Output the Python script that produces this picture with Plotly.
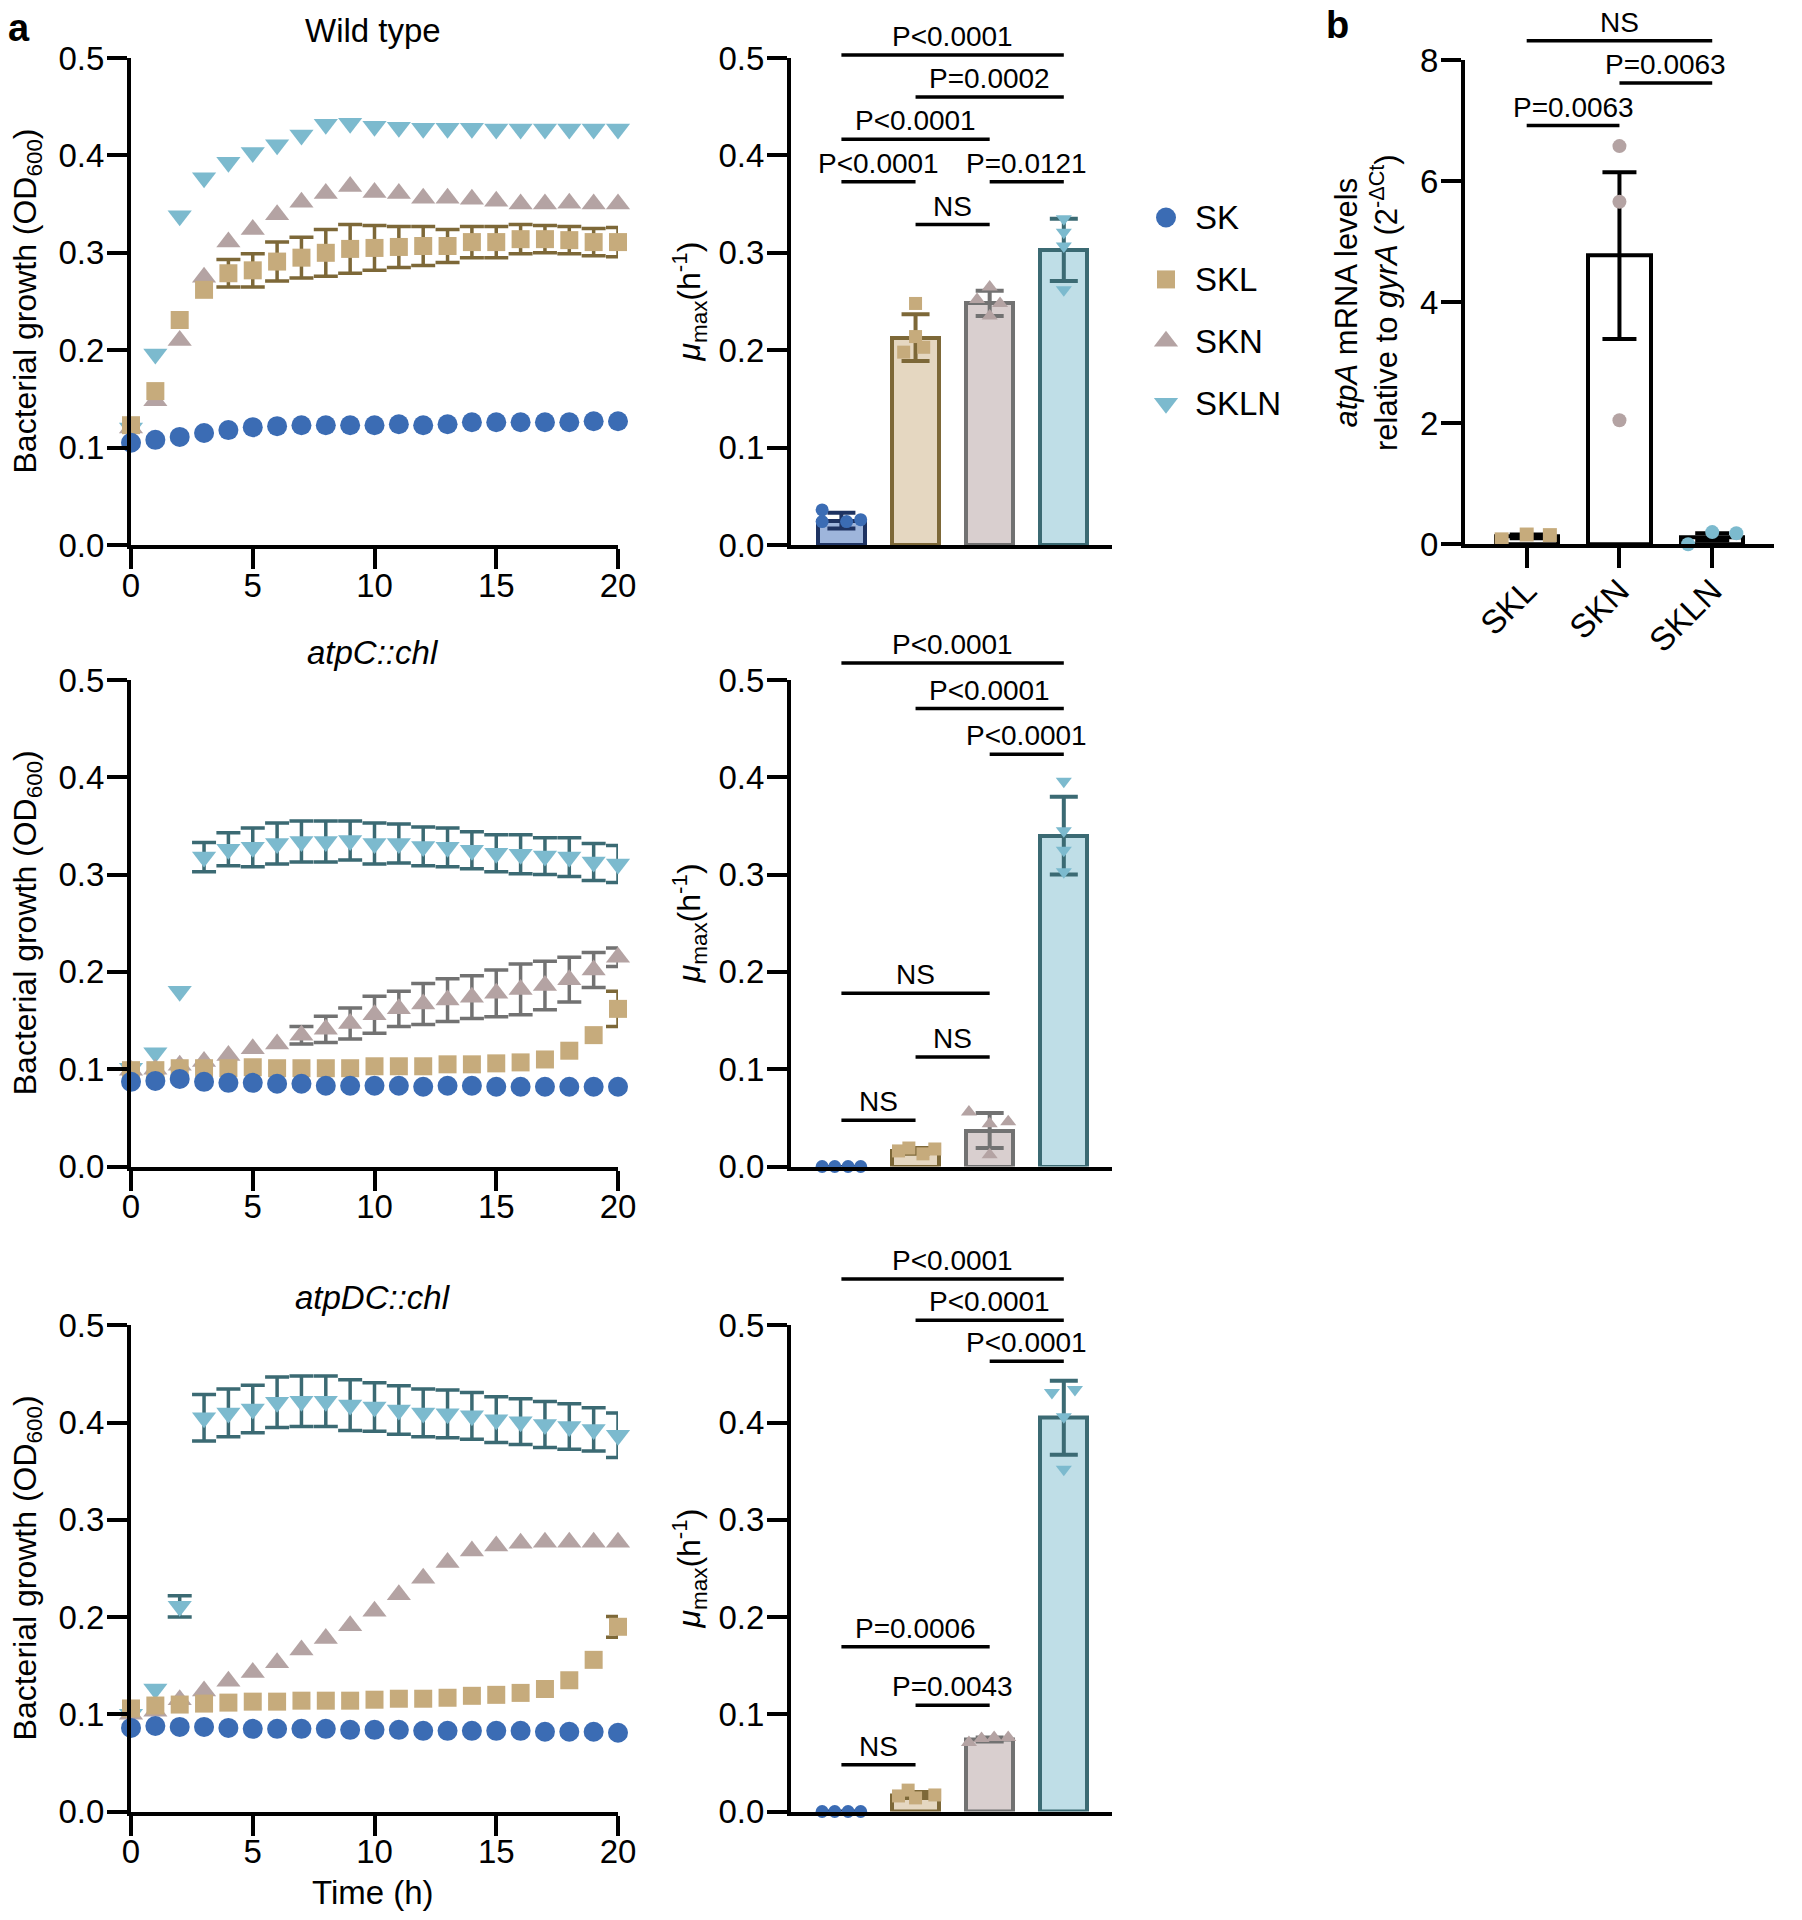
import plotly.graph_objects as go

W, H = 1802, 1920
FONT = "Liberation Sans, Arial, Helvetica, sans-serif"

# ---------------- data ----------------
TIME = list(range(21))
GROUPS = ["SK", "SKL", "SKN", "SKLN"]

# Wild type growth (OD600)
WT_SK = [0.105, 0.108, 0.111, 0.115, 0.118, 0.121, 0.122, 0.123, 0.123, 0.123, 0.123,
         0.124, 0.123, 0.124, 0.126, 0.126, 0.126, 0.126, 0.126, 0.127, 0.127]
WT_SKL = [0.123, 0.158, 0.231, 0.262, 0.279, 0.282, 0.291, 0.295, 0.300, 0.304, 0.305,
          0.306, 0.307, 0.307, 0.311, 0.311, 0.314, 0.314, 0.313, 0.311, 0.311]
WT_SKL_ERR = [None, None, None, None, 0.014, 0.017, 0.020, 0.021, 0.024, 0.025, 0.023,
              0.021, 0.020, 0.017, 0.016, 0.016, 0.015, 0.014, 0.014, 0.014, 0.015]
WT_SKN = [0.120, 0.148, 0.210, 0.275, 0.311, 0.324, 0.339, 0.352, 0.361, 0.368, 0.362,
          0.361, 0.356, 0.356, 0.355, 0.353, 0.350, 0.350, 0.351, 0.350, 0.350]
WT_SKLN = [0.120, 0.196, 0.338, 0.377, 0.393, 0.403, 0.411, 0.421, 0.432, 0.433, 0.430,
           0.429, 0.428, 0.428, 0.428, 0.427, 0.427, 0.427, 0.427, 0.427, 0.427]

# atpC::chl growth
C_SK = [0.087, 0.088, 0.090, 0.087, 0.086, 0.086, 0.085, 0.085, 0.083, 0.083, 0.083,
        0.083, 0.082, 0.083, 0.083, 0.082, 0.082, 0.082, 0.082, 0.082, 0.082]
C_SKL = [0.099, 0.099, 0.101, 0.101, 0.101, 0.102, 0.101, 0.101, 0.101, 0.101, 0.103,
         0.103, 0.103, 0.105, 0.105, 0.106, 0.107, 0.110, 0.119, 0.135, 0.162]
C_SKL_ERR = [None] * 20 + [0.018]
C_SKN = [0.099, 0.100, 0.104, 0.108, 0.114, 0.121, 0.126, 0.135, 0.141, 0.147, 0.156,
         0.162, 0.167, 0.171, 0.174, 0.178, 0.182, 0.186, 0.192, 0.202, 0.215]
C_SKN_ERR = [None] * 7 + [0.009, 0.0135, 0.016, 0.019, 0.018, 0.021, 0.022, 0.022,
                          0.024, 0.026, 0.025, 0.023, 0.018, 0.0095]
C_SKLN = [0.101, 0.117, 0.180, 0.318, 0.326, 0.328, 0.332, 0.334, 0.334, 0.335, 0.332,
          0.332, 0.329, 0.328, 0.325, 0.322, 0.321, 0.319, 0.318, 0.313, 0.311]
C_SKLN_ERR = [None] * 3 + [0.015, 0.017, 0.020, 0.021, 0.021, 0.021, 0.020, 0.021,
                           0.020, 0.020, 0.020, 0.019, 0.019, 0.020, 0.019, 0.020, 0.019, 0.019]

# atpDC::chl growth
DC_SK = [0.086, 0.088, 0.087, 0.087, 0.086, 0.085, 0.085, 0.085, 0.085, 0.084, 0.084,
         0.084, 0.083, 0.083, 0.083, 0.083, 0.083, 0.082, 0.082, 0.082, 0.081]
DC_SKL = [0.106, 0.109, 0.110, 0.111, 0.112, 0.113, 0.113, 0.114, 0.114, 0.114, 0.115,
          0.116, 0.116, 0.117, 0.119, 0.120, 0.122, 0.126, 0.135, 0.156, 0.190]
DC_SKL_ERR = [None] * 20 + [0.0107]
DC_SKN = [0.100, 0.103, 0.115, 0.124, 0.134, 0.143, 0.153, 0.166, 0.178, 0.191, 0.206,
          0.223, 0.240, 0.256, 0.268, 0.273, 0.276, 0.277, 0.277, 0.277, 0.277]
DC_SKLN = [0.100, 0.126, 0.211, 0.405, 0.410, 0.414, 0.421, 0.422, 0.422, 0.418, 0.416,
           0.413, 0.410, 0.409, 0.407, 0.403, 0.401, 0.398, 0.396, 0.393, 0.387]
DC_SKLN_ERR = [None, None, 0.011, 0.024, 0.0245, 0.0245, 0.026, 0.026, 0.026, 0.026, 0.025,
               0.025, 0.0245, 0.0245, 0.024, 0.0235, 0.0235, 0.0237, 0.0234, 0.0223, 0.023]

# mu_max bar charts
WT_MU_MEAN = [0.025, 0.213, 0.248, 0.303]
WT_MU_ERR = [0.008, 0.024, 0.013, 0.032]
WT_MU_POINTS = [[0.036, 0.024, 0.024, 0.026], [0.248, 0.214, 0.198, 0.203],
                [0.265, 0.252, 0.248, 0.235], [0.335, 0.321, 0.307, 0.262]]
WT_SIG = [(0, 3, 0.503, "P<0.0001"), (1, 3, 0.460, "P=0.0002"), (0, 2, 0.4165, "P<0.0001"),
          (0, 1, 0.373, "P<0.0001"), (2, 3, 0.373, "P=0.0121"), (1, 2, 0.329, "NS")]

C_MU_MEAN = [0.0, 0.016, 0.037, 0.340]
C_MU_ERR = [None, 0.003, 0.018, 0.040]
C_MU_POINTS = [[0.0, 0.0, 0.0, 0.0], [0.016, 0.019, 0.013, 0.018],
               [0.056, 0.046, 0.044, 0.012], [0.396, 0.345, 0.325, 0.303]]
C_SIG = [(0, 3, 0.5175, "P<0.0001"), (1, 3, 0.4707, "P<0.0001"), (2, 3, 0.4236, "P<0.0001"),
         (0, 2, 0.178, "NS"), (1, 2, 0.1126, "NS"), (0, 1, 0.0476, "NS")]

DC_MU_MEAN = [0.0, 0.017, 0.074, 0.405]
DC_MU_ERR = [None, 0.003, 0.002, 0.038]
DC_MU_POINTS = [[0.0, 0.0, 0.0, 0.0], [0.022, 0.016, 0.014, 0.017],
                [0.071, 0.075, 0.076, 0.076], [0.431, 0.434, 0.406, 0.352]]
DC_SIG = [(0, 3, 0.5477, "P<0.0001"), (1, 3, 0.5053, "P<0.0001"), (2, 3, 0.463, "P<0.0001"),
          (0, 2, 0.1695, "P=0.0006"), (1, 2, 0.1093, "P=0.0043"), (0, 1, 0.0482, "NS")]

# panel b: atpA mRNA
B_GROUPS = ["SKL", "SKN", "SKLN"]
B_MEAN = [0.13, 4.77, 0.12]
B_ERR = [0.03, 1.38, 0.06]
B_POINTS = [[0.08, 0.16, 0.15], [6.58, 5.66, 2.05], [0.0, 0.20, 0.18]]
B_SIG = [(0, 2, 8.32, "NS"), (1, 2, 7.625, "P=0.0063"), (0, 1, 6.92, "P=0.0063")]

# ---------------- styles ----------------
COLOR = {"SK": "#3b6cb4", "SKL": "#c6ab7c", "SKN": "#b4a3a3", "SKLN": "#7cbace"}
DARK = {"SK": "#1e3362", "SKL": "#7d6838", "SKN": "#727272", "SKLN": "#3b6a73"}
FILL = {"SK": "#9eb5db", "SKL": "#e5d7c1", "SKN": "#d9cfcf", "SKLN": "#bfdee7"}
SYMBOL = {"SK": "circle", "SKL": "square", "SKN": "triangle-up", "SKLN": "triangle-down"}
LSIZE = {"SK": 20, "SKL": 18, "SKN": 21, "SKLN": 21}
BSIZE = {"SK": 13, "SKL": 13, "SKN": 14, "SKLN": 14}

JIT_WT = [[-0.26, -0.26, 0.07, 0.26], [0, 0, -0.16, 0.11], [0, -0.17, 0.14, 0], [0, 0, 0, 0]]
JIT_C = [[-0.26, -0.09, 0.09, 0.26], [-0.23, -0.09, 0.1, 0.26], [-0.28, 0.25, 0, 0], [0, 0, 0, 0]]
JIT_DC = [[-0.26, -0.09, 0.09, 0.26], [-0.1, -0.23, 0, 0.26], [-0.28, -0.11, 0.06, 0.25],
          [-0.16, 0.15, 0, 0]]
JIT_B = [[-0.27, 0, 0.25], [0, 0, 0], [-0.26, 0, 0.26]]


def dx(a, b):
    return [a / W, b / W]


def dy(top, bottom):
    return [1 - bottom / H, 1 - top / H]


ROWS = [(58, 545), (680, 1166.5), (1325.4, 1811.5)]
LINE_X = (131, 618)
BAR_X = (791, 1112)
B_X = (1465, 1774)
B_Y = (60.2, 544.2)

AX = dict(showline=True, linewidth=4, linecolor="black", ticks="outside", ticklen=20,
          tickwidth=4, tickcolor="black", showgrid=False, zeroline=False, automargin=False,
          tickfont=dict(size=33, color="black", family=FONT))
XAX = dict(AX, ticklabelstandoff=-12)
YAX = dict(AX, ticklabelstandoff=-4)
HID = dict(visible=False, showgrid=False, zeroline=False, automargin=False)

fig = go.Figure()
layout = dict(width=W, height=H, template="none",
              margin=dict(l=0, r=0, t=0, b=0, pad=0, autoexpand=False), autosize=False,
              paper_bgcolor="white", plot_bgcolor="rgba(0,0,0,0)", showlegend=False,
              font=dict(family=FONT, color="black"))
annotations = []


def add_brackets(xref_name, yax_key, yref_name, dom_bottom, dom_top, range_top, sig, ext):
    """Invisible companion axis sharing the visible axis' scale but extended upward."""
    top_ext = max(h for _, _, h, _ in sig) + ext
    px_per_unit = (dom_bottom - dom_top) / range_top
    new_top = dom_bottom - top_ext * px_per_unit
    layout[yax_key] = dict(HID, domain=dy(new_top, dom_bottom), range=[0, top_ext],
                           anchor=xref_name)
    xs, ys = [], []
    for a, b, h, lab in sig:
        xs += [a, b, None]
        ys += [h, h, None]
        annotations.append(dict(xref=xref_name, yref=yref_name, x=(a + b) / 2, y=h, text=lab,
                                showarrow=False, yanchor="bottom", yshift=1,
                                font=dict(size=28, color="black", family=FONT)))
    fig.add_trace(go.Scatter(x=xs, y=ys, mode="lines", xaxis=xref_name, yaxis=yref_name,
                             line=dict(color="black", width=3.5), hoverinfo="skip"))


growth_sets = [
    {"SK": (WT_SK, None), "SKL": (WT_SKL, WT_SKL_ERR), "SKN": (WT_SKN, None), "SKLN": (WT_SKLN, None)},
    {"SK": (C_SK, None), "SKL": (C_SKL, C_SKL_ERR), "SKN": (C_SKN, C_SKN_ERR), "SKLN": (C_SKLN, C_SKLN_ERR)},
    {"SK": (DC_SK, None), "SKL": (DC_SKL, DC_SKL_ERR), "SKN": (DC_SKN, None), "SKLN": (DC_SKLN, DC_SKLN_ERR)},
]
bar_sets = [(WT_MU_MEAN, WT_MU_ERR, WT_MU_POINTS, WT_SIG, JIT_WT),
            (C_MU_MEAN, C_MU_ERR, C_MU_POINTS, C_SIG, JIT_C),
            (DC_MU_MEAN, DC_MU_ERR, DC_MU_POINTS, DC_SIG, JIT_DC)]
TITLES = ["Wild type", "<i>atpC::chl</i>", "<i>atpDC::chl</i>"]

Y_TICKS = [0, 0.1, 0.2, 0.3, 0.4, 0.5]
Y_TEXT = ["0.0", "0.1", "0.2", "0.3", "0.4", "0.5"]

for r in range(3):
    top, bot = ROWS[r]
    li = r + 1          # line plot axis index
    bi = r + 4          # bar plot axis index
    si = r + 9          # bracket companion axis index
    lx, ly = ("x" if li == 1 else f"x{li}"), ("y" if li == 1 else f"y{li}")
    bx, by = f"x{bi}", f"y{bi}"

    layout["xaxis" if li == 1 else f"xaxis{li}"] = dict(
        XAX, domain=dx(*LINE_X), range=[0, 20], tickvals=[0, 5, 10, 15, 20], anchor=ly)
    layout["yaxis" if li == 1 else f"yaxis{li}"] = dict(
        YAX, domain=dy(top, bot), range=[0, 0.5], tickvals=Y_TICKS, ticktext=Y_TEXT, anchor=lx)
    layout[f"xaxis{bi}"] = dict(AX, domain=dx(*BAR_X), range=[-0.68, 3.65], ticks="",
                                showticklabels=False, anchor=by)
    layout[f"yaxis{bi}"] = dict(YAX, domain=dy(top, bot), range=[0, 0.5], tickvals=Y_TICKS,
                                ticktext=Y_TEXT, anchor=bx)

    # growth curves: back to front SKLN, SKN, SKL, SK
    for g in ["SKLN", "SKN", "SKL", "SK"]:
        vals, errs = growth_sets[r][g]
        if errs is not None:
            ex = [t for t, e in zip(TIME, errs) if e is not None]
            ey = [v for v, e in zip(vals, errs) if e is not None]
            ee = [e for e in errs if e is not None]
            fig.add_trace(go.Scatter(x=ex, y=ey, mode="markers", xaxis=lx, yaxis=ly,
                                     marker=dict(size=1, color="rgba(0,0,0,0)"),
                                     error_y=dict(type="data", array=ee, color=DARK[g],
                                                  thickness=3.5, width=12),
                                     cliponaxis=False, hoverinfo="skip"))
        fig.add_trace(go.Scatter(x=TIME, y=vals, mode="markers", xaxis=lx, yaxis=ly, name=g,
                                 marker=dict(symbol=SYMBOL[g], size=LSIZE[g], color=COLOR[g],
                                             opacity=1, line=dict(width=0)),
                                 cliponaxis=False))

    # bar chart
    mean, err, pts, sig, jit = bar_sets[r]
    for i, g in enumerate(GROUPS):
        bar_kw = dict(x=[i], y=[mean[i]], xaxis=bx, yaxis=by, width=0.63,
                      marker=dict(color=FILL[g], line=dict(color=DARK[g], width=4)))
        if err[i] is not None:
            bar_kw["error_y"] = dict(type="data", array=[err[i]], color=DARK[g],
                                     thickness=4, width=14)
        fig.add_trace(go.Bar(**bar_kw))
    for i, g in enumerate(GROUPS):
        fig.add_trace(go.Scatter(x=[i + o for o in jit[i]], y=pts[i], mode="markers",
                                 xaxis=bx, yaxis=by, cliponaxis=False,
                                 marker=dict(symbol=SYMBOL[g], size=BSIZE[g], color=COLOR[g],
                                             opacity=1, line=dict(width=0))))
    add_brackets(bx, f"yaxis{si}", f"y{si}", bot, top, 0.5, sig, 0.01)

    # titles / axis labels
    annotations.append(dict(xref="paper", yref="paper", x=373 / W, y=1 - (top - 28) / H,
                            text=TITLES[r], showarrow=False, xanchor="center", yanchor="middle",
                            font=dict(size=33, color="black", family=FONT)))
    annotations.append(dict(xref="paper", yref="paper", x=27 / W, y=1 - (top + bot) / 2 / H,
                            text="Bacterial growth (OD<sub>600</sub>)", textangle=-90,
                            showarrow=False, xanchor="center", yanchor="middle",
                            font=dict(size=32, color="black", family=FONT)))
    annotations.append(dict(xref="paper", yref="paper", x=689 / W, y=1 - (top + bot) / 2 / H,
                            text="<i>μ</i><sub>max</sub>(h<sup>-1</sup>)", textangle=-90,
                            showarrow=False, xanchor="center", yanchor="middle",
                            font=dict(size=32, color="black", family=FONT)))

# panel b
layout["xaxis7"] = dict(AX, ticklabelstandoff=-10, domain=dx(*B_X), range=[-0.665, 2.666],
                        tickvals=[0, 1, 2], ticktext=B_GROUPS, tickangle=-45, anchor="y7")
layout["yaxis7"] = dict(YAX, domain=dy(*B_Y), range=[0, 8], tickvals=[0, 2, 4, 6, 8],
                        anchor="x7")
fig.add_trace(go.Bar(x=[0, 1, 2], y=B_MEAN, xaxis="x7", yaxis="y7", width=0.67,
                     marker=dict(color="white", line=dict(color="black", width=4)),
                     error_y=dict(type="data", array=B_ERR, color="black", thickness=4, width=17)))
B_COL = [COLOR["SKL"], COLOR["SKN"], COLOR["SKLN"]]
B_SYM = ["square", "circle", "circle"]
for i in range(3):
    fig.add_trace(go.Scatter(x=[i + o for o in JIT_B[i]], y=B_POINTS[i], mode="markers",
                             xaxis="x7", yaxis="y7", cliponaxis=False,
                             marker=dict(symbol=B_SYM[i], size=14, color=B_COL[i], opacity=1,
                                         line=dict(width=0))))
add_brackets("x7", "yaxis12", "y12", B_Y[1], B_Y[0], 8, B_SIG, 0.15)
annotations.append(dict(xref="paper", yref="paper", x=1366 / W, y=1 - 303 / H,
                        text="<i>atpA</i> mRNA levels<br>relative to <i>gyrA</i> (2<sup>-ΔCt</sup>)",
                        textangle=-90, showarrow=False, xanchor="center", yanchor="middle",
                        font=dict(size=31, color="black", family=FONT)))

# legend (custom)
layout["xaxis8"] = dict(HID, domain=dx(1166, 1400), range=[0, 1], anchor="y8")
layout["yaxis8"] = dict(HID, domain=dy(217.5, 403.3), range=[3, 0], anchor="x8")
fig.add_trace(go.Scatter(x=[0] * 4, y=list(range(4)), mode="markers", xaxis="x8", yaxis="y8",
                         cliponaxis=False,
                         marker=dict(symbol=[SYMBOL[g] for g in GROUPS],
                                     size=[LSIZE[g] for g in GROUPS], opacity=1,
                                     color=[COLOR[g] for g in GROUPS], line=dict(width=0))))
for i, g in enumerate(GROUPS):
    annotations.append(dict(xref="x8", yref="y8", x=0, y=i, text=g, showarrow=False,
                            xanchor="left", yanchor="middle", xshift=27,
                            font=dict(size=33, color="black", family=FONT)))

# other labels
annotations.append(dict(xref="paper", yref="paper", x=373 / W, y=1 - 1892 / H, text="Time (h)",
                        showarrow=False, xanchor="center", yanchor="middle",
                        font=dict(size=33, color="black", family=FONT)))
annotations.append(dict(xref="paper", yref="paper", x=19 / W, y=1 - 28 / H, text="<b>a</b>",
                        showarrow=False, xanchor="center", yanchor="middle",
                        font=dict(size=38, color="black", family=FONT)))
annotations.append(dict(xref="paper", yref="paper", x=1337 / W, y=1 - 25 / H, text="<b>b</b>",
                        showarrow=False, xanchor="center", yanchor="middle",
                        font=dict(size=38, color="black", family=FONT)))

layout["annotations"] = annotations
layout["bargap"] = 0
fig.update_layout(**layout)
fig.write_html("out.html", config={"displayModeBar": False},
               post_script="document.body.style.margin='0px';")
